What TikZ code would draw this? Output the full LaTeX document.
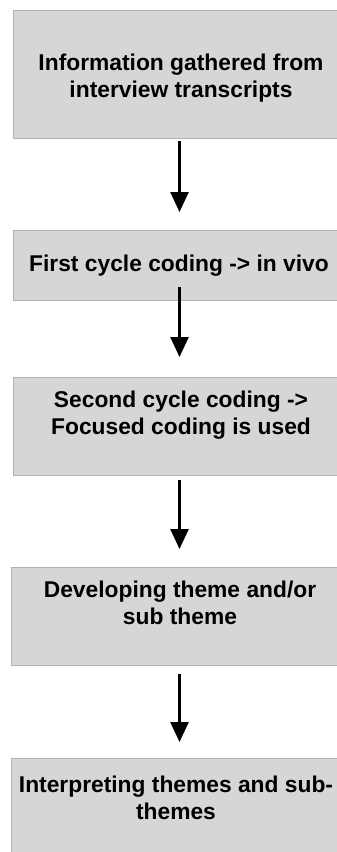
\documentclass[tikz,border=0pt]{standalone}
\usepackage{fontspec}
\setmainfont{Liberation Sans}
\usetikzlibrary{arrows.meta,calc}
\definecolor{boxfill}{HTML}{D6D6D6}
\definecolor{boxline}{HTML}{B2B2B2}
\begin{document}
\begin{tikzpicture}[x=1pt,y=1pt,
  stepbox/.style={draw=boxline,fill=boxfill,line width=1pt,rectangle,anchor=north west,inner sep=0pt},
  boxtext/.style={align=center,anchor=base,inner sep=0pt,font=\fontsize{22.8}{27}\selectfont\bfseries},
  flow/.style={line width=2.6pt,-{Triangle[width=18pt,length=20pt]}}]
\useasboundingbox (0,0) rectangle (337,-852);
% boxes
\node[stepbox,minimum width=335pt,minimum height=128pt] (b1) at (12.5,-10) {};
\node[stepbox,minimum width=335pt,minimum height=70pt] (b2) at (12.5,-230) {};
\node[stepbox,minimum width=335pt,minimum height=98pt] (b3) at (12.5,-377) {};
\node[stepbox,minimum width=337pt,minimum height=98pt] (b4) at (11,-567) {};
\node[stepbox,minimum width=337pt,minimum height=110pt] (b5) at (11,-758) {};
% texts (base anchor = last line baseline)
\node[boxtext] (t1) at (181,-97) {Information gathered from\\interview transcripts};
\node[boxtext] (t2) at (179,-271.5) {First cycle coding -> in vivo};
\node[boxtext] (t3) at (181,-434) {Second cycle coding ->\\Focused coding is used};
\node[boxtext] (t4) at (180,-624) {Developing theme and/or\\sub theme};
\node[boxtext] (t5) at (176,-819) {Interpreting themes and sub-\\themes};
% arrows
\coordinate (ax) at (179.5,0);
\draw[flow] ($(b1.south -| ax)+(0,-2)$) -- ($(b2.north -| ax)+(0,18)$);
\draw[flow] ($(b2.south -| ax)+(0,14)$) -- ($(b3.north -| ax)+(0,20)$);
\draw[flow] ($(b3.south -| ax)+(0,-4)$) -- ($(b4.north -| ax)+(0,18)$);
\draw[flow] ($(b4.south -| ax)+(0,-8)$) -- ($(b5.north -| ax)+(0,16)$);
\end{tikzpicture}
\end{document}
